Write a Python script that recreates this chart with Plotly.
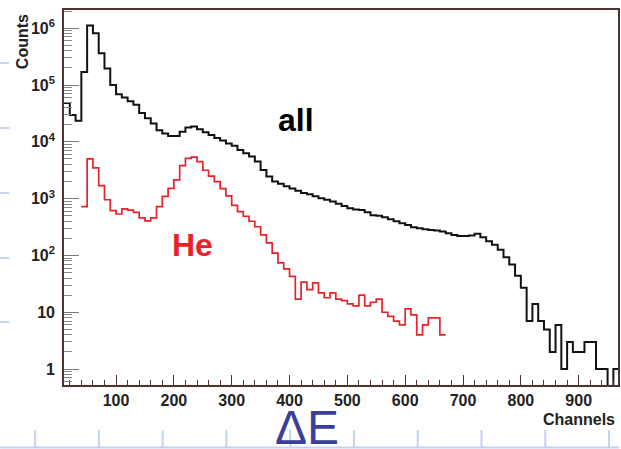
import plotly.graph_objects as go

# ---------------- data (10-channel bins) ----------------
bin_width = 10
all_start = 10
all_counts = [48000, 29500, 23400, 170000, 1120000, 813000, 363000, 195000, 100000,
              69000, 60000, 52000, 45000, 32000, 26000, 21000, 16000, 14000, 12600,
              12600, 15000, 17800, 18600, 16600, 14800, 13200, 11700, 10500, 9300,
              8500, 7200, 6300, 5500, 4500, 3200, 2450, 2000, 1820, 1660,
              1510, 1380, 1260, 1200, 1100, 1020, 955, 890, 810, 740,
              680, 645, 630, 575, 510, 500, 470, 435, 400, 370,
              345, 315, 300, 290, 280, 275, 265, 245, 230, 220,
              220, 225, 240, 210, 178, 155, 126, 93, 69, 44,
              27, 7, 14, 7, 5, 2, 6, 1, 3, 2,
              2, 3, 3, 1, 1, 0, 1]

he_start = 40
he_counts = [725, 5000, 3470, 1700, 955, 617, 537, 660, 630, 575,
             457, 407, 457, 725, 1100, 1510, 2140, 3800, 5130, 5370,
             4470, 3160, 2500, 2000, 1500, 1120, 760, 590, 490, 400,
             320, 230, 166, 110, 74, 58, 43, 17, 34, 25,
             33, 22, 18, 22, 17, 16, 14, 13, 20, 13,
             15, 17, 10, 8.5, 7, 6, 11.5, 9, 4, 6,
             8, 8, 4]

x_tick_vals = [100, 200, 300, 400, 500, 600, 700, 800, 900]
y_tick_vals = [1, 10, 100, 1000, 10000, 100000, 1000000]
y_tick_text = ["1", "10", "10<sup>2</sup>", "10<sup>3</sup>", "10<sup>4</sup>",
               "10<sup>5</sup>", "10<sup>6</sup>"]
y_minor_vals = [m * 10 ** k for k in range(-1, 7) for m in range(2, 10)]


def step_xy(start, counts):
    xs = [start + i * bin_width for i in range(len(counts) + 1)]
    ys = [c if c > 0 else 0.1 for c in counts]  # empty bins drop below the axis floor
    ys = ys + [ys[-1]]
    return xs, ys


fig = go.Figure()
xa, ya = step_xy(all_start, all_counts)
fig.add_trace(go.Scatter(x=xa, y=ya, mode="lines", line=dict(shape="hv", color="#111111", width=2),
                         name="all", showlegend=False, hoverinfo="skip"))
xh, yh = step_xy(he_start, he_counts)
fig.add_trace(go.Scatter(x=xh, y=yh, mode="lines", line=dict(shape="hv", color="#e8222a", width=1.7),
                         name="He", showlegend=False, hoverinfo="skip"))

W, H = 621, 449
L, R, T, B = 64, 1, 10, 64
PW, PH = W - L - R, H - T - B


def px(xp):
    return (xp - L) / PW


def py(yp):
    return (H - B - yp) / PH


frame = "#4e3232"
tickfont = dict(family="Liberation Sans, Arial", size=16, color="#222222", weight="bold")

fig.update_xaxes(range=[10, 968], tickvals=x_tick_vals, ticks="inside", ticklen=10,
                 tickcolor=frame, tickwidth=1.2, showline=True, linecolor=frame, linewidth=1.6,
                 mirror=True, showgrid=False, zeroline=False, tickfont=tickfont,
                 minor=dict(dtick=20, ticks="inside", ticklen=5, tickcolor=frame, showgrid=False))
fig.update_yaxes(type="log", range=[-0.28, 6.32], tickvals=y_tick_vals, ticktext=y_tick_text,
                 ticks="inside", ticklen=15, tickcolor="#777777", tickwidth=1.2,
                 showline=True, linecolor=frame, linewidth=1.6, mirror=True, showgrid=False,
                 zeroline=False, tickfont=tickfont, ticklabelstandoff=4,
                 minor=dict(tickvals=y_minor_vals, ticks="inside", ticklen=8, tickcolor="#888888",
                            showgrid=False))

bold = dict(family="Liberation Sans, Arial", weight="bold")
annotations = [
    dict(text="Counts", x=px(22), y=py(42), textangle=-90, font=dict(size=16, color="#222", **bold)),
    dict(text="Channels", x=px(619), y=py(419), xanchor="right", font=dict(size=16, color="#222", **bold)),
    dict(text="all", x=px(297), y=py(120), font=dict(size=32, color="#000", **bold)),
    dict(text="He", x=px(193), y=py(245), font=dict(size=32, color="#e8222a", **bold)),
    dict(text="ΔE", x=px(308), y=py(427), font=dict(size=48, color="#3b3f99",
                                                     family="Liberation Sans, Arial")),
]
for a in annotations:
    a.update(xref="paper", yref="paper", showarrow=False)
    a.setdefault("xanchor", "center")
    a.setdefault("yanchor", "middle")

deco = "#c6d2f2"
shapes = [dict(type="line", x0=px(0), x1=px(W), y0=py(447.5), y1=py(447.5),
               line=dict(color=deco, width=2))]
for xm in range(35, W, 64):
    shapes.append(dict(type="line", x0=px(xm), x1=px(xm), y0=py(430), y1=py(447),
                       line=dict(color=deco, width=2)))
for ym in [63, 128, 193, 258, 322]:
    shapes.append(dict(type="line", x0=px(0), x1=px(9), y0=py(ym), y1=py(ym),
                       line=dict(color=deco, width=2)))
for s in shapes:
    s.update(xref="paper", yref="paper", layer="below")

fig.update_layout(width=W, height=H, margin=dict(l=L, r=R, t=T, b=B, pad=0),
                  paper_bgcolor="white", plot_bgcolor="white",
                  annotations=annotations, shapes=shapes, showlegend=False)

fig.write_html("out.html", config={"displayModeBar": False},
               post_script="document.body.style.margin='0';document.body.style.overflow='hidden';")
